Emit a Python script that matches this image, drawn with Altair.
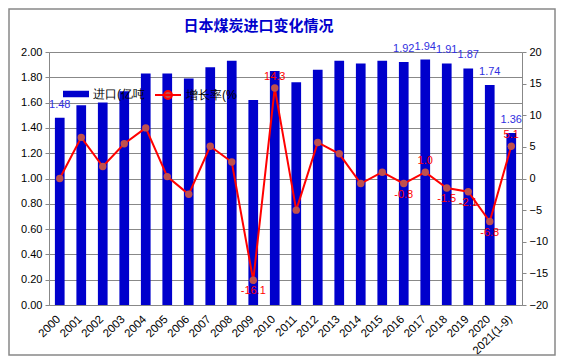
import altair as alt
import pandas as pd

years = ["2000", "2001", "2002", "2003", "2004", "2005", "2006", "2007", "2008", "2009", "2010",
         "2011", "2012", "2013", "2014", "2015", "2016", "2017", "2018", "2019", "2020", "2021(1-9)"]
imports = [1.48, 1.58, 1.60, 1.69, 1.83, 1.83, 1.79, 1.88, 1.93, 1.62, 1.85,
           1.76, 1.86, 1.93, 1.91, 1.93, 1.92, 1.94, 1.91, 1.87, 1.74, 1.36]
growth = [0.0, 6.5, 1.9, 5.5, 8.0, 0.3, -2.5, 5.1, 2.6, -16.1, 14.3,
          -5.0, 5.7, 3.9, -0.8, 1.0, -0.8, 1.0, -1.5, -2.1, -6.8, 5.1]
bar_label_years = ["2000", "2016", "2017", "2018", "2019", "2020", "2021(1-9)"]
line_label_above = ["2010", "2017", "2021(1-9)"]
line_label_below = ["2009", "2016", "2018", "2019", "2020"]

title = "日本煤炭进口变化情况"
s1 = "进口(亿吨"
s2 = "增长率(%"

df = pd.DataFrame({"year": years, "imp": imports, "g": growth})
df["s1"] = s1
df["s2"] = s2
df["imp_lab"] = df["imp"].map(lambda v: f"{v:.2f}")
df["g_lab"] = df["g"].map(lambda v: f"{v:.1f}")

FONT = "Liberation Sans"
GRAY = "#888888"

x = alt.X("year:N", sort=None, title=None,
          scale=alt.Scale(paddingInner=0.55, paddingOuter=0.275),
          axis=alt.Axis(labelAngle=-45, ticks=False, domainColor=GRAY, labelFont=FONT,
                        labelFontSize=11.5, labelColor="black", labelPadding=8, labelOffset=-5))

base = alt.Chart(df)

border = alt.Chart(pd.DataFrame({"a": [0]})).mark_rect(
    fill=None, stroke=GRAY, strokeWidth=1.5
).encode(x=alt.value(-40), x2=alt.value(506), y=alt.value(-43), y2=alt.value(303))

ly = alt.Y("imp:Q", title=None,
           scale=alt.Scale(domain=[0, 2]),
           axis=alt.Axis(values=[0, 0.2, 0.4, 0.6, 0.8, 1.0, 1.2, 1.4, 1.6, 1.8, 2.0], format=".2f",
                         grid=True, gridColor=GRAY, domainColor=GRAY, tickColor=GRAY, tickSize=4,
                         labelFont=FONT, labelFontSize=11, labelColor="black", labelPadding=3))

bars = base.mark_bar(size=9.7).encode(
    x=x, y=ly,
    color=alt.Color("s1:N", title=None, scale=alt.Scale(domain=[s1], range=["#0000CC"]),
                    legend=alt.Legend(orient="none", legendX=14, legendY=29, padding=0,
                                      symbolType="M-1,-0.25H1V0.25H-1Z", symbolSize=676,
                                      symbolStrokeWidth=0, labelFont=FONT, labelFontSize=12,
                                      labelColor="black", labelLimit=200)))

bar_text = base.transform_filter(
    alt.FieldOneOfPredicate(field="year", oneOf=bar_label_years)
).mark_text(dy=-13, font=FONT, fontSize=11, color="#3030E0").encode(
    x=x, y=ly, text="imp_lab:N")

left = alt.layer(bars, bar_text)

ry = alt.Y("g:Q", title=None, scale=alt.Scale(domain=[-20, 20]),
           axis=alt.Axis(orient="right", values=[-20, -15, -10, -5, 0, 5, 10, 15, 20], grid=False,
                         domainColor=GRAY, tickColor=GRAY, tickSize=4, labelFont=FONT,
                         labelFontSize=11, labelColor="black", labelPadding=3))

line = base.mark_line(strokeWidth=2).encode(
    x=x, y=ry,
    stroke=alt.Stroke("s2:N", title=None, scale=alt.Scale(domain=[s2], range=["#FF0000"]),
                      legend=alt.Legend(orient="none", legendX=105, legendY=29, padding=0,
                                        symbolType="M-1,0H1M0.3,0A0.3,0.3 0 1,1 -0.3,0A0.3,0.3 0 1,1 0.3,0Z",
                                        symbolSize=676, symbolStrokeWidth=2,
                                        symbolFillColor="#C0504D", labelFont=FONT, labelFontSize=12,
                                        labelColor="black", labelLimit=200)))
pts = base.mark_circle(size=55, color="#C0504D", opacity=1).encode(x=x, y=ry)
t_above = base.transform_filter(
    alt.FieldOneOfPredicate(field="year", oneOf=line_label_above)
).mark_text(dy=-11, font=FONT, fontSize=11, color="#FF0000").encode(x=x, y=ry, text="g_lab:N")
t_below = base.transform_filter(
    alt.FieldOneOfPredicate(field="year", oneOf=line_label_below)
).mark_text(dy=11, font=FONT, fontSize=11, color="#FF0000").encode(x=x, y=ry, text="g_lab:N")

right = alt.layer(line, pts, t_above, t_below)

chart = alt.layer(border, left, right).resolve_scale(y="independent").properties(
    width=473, height=253,
    autosize=alt.AutoSizeParams(type="none"),
    padding={"left": 41, "top": 44, "right": 34, "bottom": 51},
    title=alt.TitleParams(title, anchor="middle", frame="group", dx=-27, offset=0, dy=26,
                          font="Noto Sans CJK SC", fontSize=15, fontWeight="bold", color="#0000CC"),
).configure_view(stroke=None).configure(background="white")

chart.save("out.html", embed_options={"renderer": "svg", "actions": False})
